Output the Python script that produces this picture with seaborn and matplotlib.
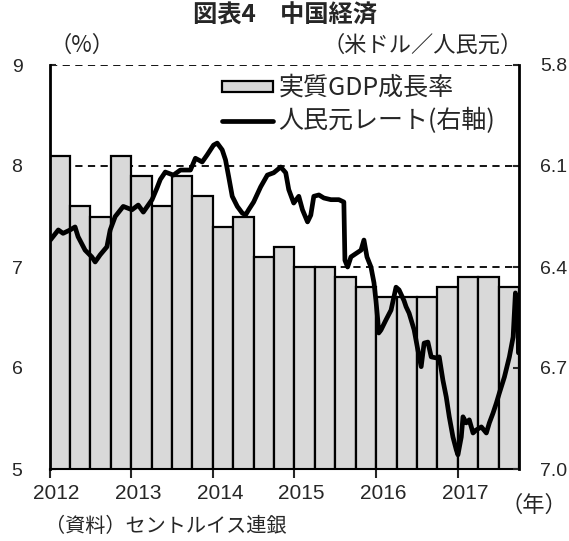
import numpy as np
import matplotlib
matplotlib.use("Agg")
import matplotlib.pyplot as plt
from matplotlib.patches import Patch
from matplotlib.lines import Line2D
import seaborn as sns

# ---------------- data ----------------
quarters = [f"{y}Q{q}" for y in range(2012, 2018) for q in range(1, 5)][:23]
gdp = [8.1, 7.6, 7.5, 8.1, 7.9, 7.6, 7.9, 7.7, 7.4, 7.5, 7.1, 7.2,
       7.0, 7.0, 6.9, 6.8, 6.7, 6.7, 6.7, 6.8, 6.9, 6.9, 6.8]

rate_t = [2012.01, 2012.108, 2012.166, 2012.252, 2012.313, 2012.350, 2012.436,
          2012.518, 2012.559, 2012.620, 2012.703, 2012.743, 2012.805, 2012.903,
          2013.010, 2013.087, 2013.149, 2013.256, 2013.317, 2013.357, 2013.418,
          2013.517, 2013.603, 2013.726, 2013.787, 2013.870, 2013.931, 2014.009,
          2014.054, 2014.115, 2014.156, 2014.193, 2014.238, 2014.300, 2014.361,
          2014.402, 2014.439, 2014.500, 2014.586, 2014.668, 2014.746, 2014.832,
          2014.893, 2014.930, 2014.991, 2015.053, 2015.098, 2015.160, 2015.200,
          2015.237, 2015.299, 2015.360, 2015.446, 2015.544, 2015.605, 2015.618,
          2015.651, 2015.692, 2015.753, 2015.815, 2015.851, 2015.888, 2015.937,
          2015.974, 2015.998, 2016.020, 2016.032, 2016.060, 2016.121, 2016.183,
          2016.244, 2016.281, 2016.342, 2016.367, 2016.404, 2016.429, 2016.466,
          2016.511, 2016.552, 2016.588, 2016.634, 2016.675, 2016.736, 2016.773,
          2016.818, 2016.859, 2016.896, 2016.941, 2016.982, 2017.002, 2017.043,
          2017.064, 2017.104, 2017.141, 2017.187, 2017.227, 2017.289, 2017.350,
          2017.387, 2017.432, 2017.473, 2017.510, 2017.571, 2017.632, 2017.678,
          2017.706, 2017.718, 2017.739, 2017.743]
rate_v = [6.32, 6.29, 6.30, 6.29, 6.281, 6.31, 6.35,
          6.37, 6.385, 6.364, 6.34, 6.29, 6.25, 6.22,
          6.23, 6.216, 6.237, 6.20, 6.165, 6.14, 6.118,
          6.127, 6.112, 6.112, 6.077, 6.088, 6.067, 6.038,
          6.032, 6.052, 6.082, 6.13, 6.19, 6.22, 6.24,
          6.245, 6.23, 6.207, 6.162, 6.127, 6.12, 6.103,
          6.12, 6.17, 6.21, 6.19, 6.23, 6.266, 6.246,
          6.19, 6.186, 6.195, 6.20, 6.20, 6.207, 6.38,
          6.40, 6.37, 6.36, 6.35, 6.32, 6.37, 6.40,
          6.447, 6.50, 6.557, 6.596, 6.587, 6.557, 6.528,
          6.46, 6.468, 6.50, 6.518, 6.537, 6.557, 6.587,
          6.646, 6.696, 6.626, 6.623, 6.667, 6.67, 6.667,
          6.736, 6.786, 6.845, 6.905, 6.943, 6.958, 6.905,
          6.845, 6.863, 6.854, 6.893, 6.884, 6.875, 6.893,
          6.863, 6.834, 6.804, 6.774, 6.727, 6.667, 6.608,
          6.477, 6.537, 6.578, 6.655]

years = ["2012", "2013", "2014", "2015", "2016", "2017"]
left_ticks = [5, 6, 7, 8, 9]
right_ticks = [5.8, 6.1, 6.4, 6.7, 7.0]

# ---------------- style ----------------
sns.set_style("white")
plt.rcParams["font.family"] = ["Liberation Sans", "Noto Sans CJK JP", "DejaVu Sans"]
JP = ["Noto Sans CJK JP", "DejaVu Sans"]

fig = plt.figure(figsize=(5.69, 5.41), dpi=100)
W, H = 569, 541
ax = fig.add_axes([49.5 / W, 1 - 469 / H, (519 - 49.5) / W, (469 - 65) / H])

sns.barplot(x=quarters, y=gdp, color="#D9D9D9", saturation=1, width=1,
            edgecolor="black", linewidth=1.6, ax=ax, zorder=2)
ax.set_xlim(-0.5, 22.5)
ax.set_ylim(5, 9)
ax.set_xlabel("")
ax.set_ylabel("")

ax.set_yticks(left_ticks)
ax.set_yticklabels([str(v) for v in left_ticks])
ax.yaxis.grid(True, which="major", linestyle=(0, (4, 3)), color="black",
              linewidth=1.3)
ax.xaxis.grid(False, which="both")
ax.set_axisbelow(True)

# year boundaries as tick marks, labels slightly to the right on minor ticks
year_pos = [-0.5 + 4 * i for i in range(len(years))]
ax.set_xticks(year_pos)
ax.set_xticklabels([""] * len(years))
ax.set_xticks([p + 0.35 for p in year_pos], minor=True)
ax.set_xticklabels(years, minor=True)

ax.tick_params(axis="y", direction="in", length=4.5, width=1.5, pad=19.5,
               labelsize=14, left=True)
ax.tick_params(axis="x", which="major", direction="out", length=6.5,
               width=1.5, bottom=True)
ax.tick_params(axis="x", which="minor", length=0, pad=10.5, labelsize=15,
               bottom=True)
for s in ["top", "right"]:
    ax.spines[s].set_visible(False)
ax.spines["left"].set_linewidth(2)
ax.spines["left"].set_color("black")
ax.spines["bottom"].set_linewidth(1.5)
ax.spines["bottom"].set_color("black")

# ---------------- line on right axis ----------------
ax2 = ax.twinx()
qx = (np.array(rate_t) - 2012) * 4 - 0.5
sns.lineplot(x=qx, y=rate_v, color="black", linewidth=3.4, ax=ax2,
             estimator=None, sort=False)
ax2.set_ylim(7.0, 5.8)
ax2.set_xlim(-0.5, 22.5)
ax2.set_yticks(right_ticks)
ax2.set_yticklabels([f"{v:.1f}" for v in right_ticks])
ax2.set_ylabel("")
ax2.tick_params(axis="y", direction="in", length=4.5, width=1.5, pad=15,
                labelsize=14, right=True)
for s in ["top", "left", "bottom"]:
    ax2.spines[s].set_visible(False)
ax2.spines["right"].set_linewidth(2)
ax2.spines["right"].set_color("black")

# ---------------- legend ----------------
handles = [Patch(facecolor="#D9D9D9", edgecolor="black", linewidth=1.6),
           Line2D([], [], color="black", linewidth=3.4)]
labels = ["実質GDP成長率", "人民元レート(右軸)"]
ax2.legend(handles, labels, loc="upper left",
           bbox_to_anchor=(222 / W, 1 - 75 / H), bbox_transform=fig.transFigure,
           frameon=False, prop={"family": JP, "size": 18},
           handlelength=2.05, handleheight=0.3,
           handletextpad=0.2, labelspacing=0.28, borderpad=0, borderaxespad=0)

# ---------------- texts ----------------
fig.text(285 / W, 1 - 16 / H, "図表4\u3000中国経済", ha="center", va="center",
         fontsize=17.5, fontweight="bold", family=JP)
fig.text(82 / W, 1 - 45 / H, "（%）", ha="center", va="center", fontsize=16,
         family=JP)
fig.text(423 / W, 1 - 45 / H, "（米ドル／人民元）", ha="center", va="center",
         fontsize=16, family=JP)
fig.text(534 / W, 1 - 505 / H, "（年）", ha="center", va="center", fontsize=16,
         family=JP)
fig.text(45 / W, 1 - 527 / H, "（資料）セントルイス連銀", ha="left", va="center",
         fontsize=14.5, family=JP)

fig.savefig("out.png", dpi=100)
